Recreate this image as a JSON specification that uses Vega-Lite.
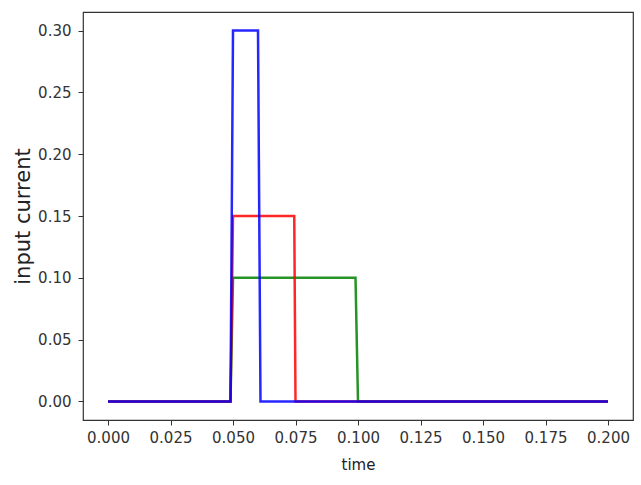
{
  "$schema": "https://vega.github.io/schema/vega-lite/v6.json",
  "autosize": {"type": "none"},
  "width": 550,
  "height": 408,
  "padding": {"left": 83, "top": 12, "right": 8, "bottom": 65},
  "background": "white",
  "config": {
    "view": {"stroke": "#333333", "strokeWidth": 1.2},
    "axis": {
      "grid": false,
      "domain": false,
      "tickColor": "#333333",
      "tickSize": 5,
      "labelFont": "DejaVu Sans",
      "labelFontSize": 15,
      "labelColor": "#333333",
      "titleFont": "DejaVu Sans",
      "titleColor": "#222222",
      "titleFontWeight": "normal"
    }
  },
  "data": {
    "values": [
      {"series": "green", "time": 0.0, "current": 0.0},
      {"series": "green", "time": 0.049, "current": 0.0},
      {"series": "green", "time": 0.05, "current": 0.1},
      {"series": "green", "time": 0.099, "current": 0.1},
      {"series": "green", "time": 0.1, "current": 0.0},
      {"series": "green", "time": 0.2, "current": 0.0},
      {"series": "red", "time": 0.0, "current": 0.0},
      {"series": "red", "time": 0.049, "current": 0.0},
      {"series": "red", "time": 0.05, "current": 0.15},
      {"series": "red", "time": 0.0745, "current": 0.15},
      {"series": "red", "time": 0.075, "current": 0.0},
      {"series": "red", "time": 0.2, "current": 0.0},
      {"series": "blue", "time": 0.0, "current": 0.0},
      {"series": "blue", "time": 0.049, "current": 0.0},
      {"series": "blue", "time": 0.05, "current": 0.3},
      {"series": "blue", "time": 0.06, "current": 0.3},
      {"series": "blue", "time": 0.061, "current": 0.0},
      {"series": "blue", "time": 0.2, "current": 0.0}
    ]
  },
  "encoding": {
    "x": {
      "field": "time", "type": "quantitative",
      "scale": {"domain": [-0.01, 0.21], "nice": false, "zero": false},
      "axis": {"values": [0, 0.025, 0.05, 0.075, 0.1, 0.125, 0.15, 0.175, 0.2], "format": ".3f", "title": "time", "titleFontSize": 15, "titlePadding": 12, "labelPadding": 5}
    },
    "y": {
      "field": "current", "type": "quantitative",
      "scale": {"domain": [-0.015, 0.315], "nice": false, "zero": false},
      "axis": {"values": [0, 0.05, 0.1, 0.15, 0.2, 0.25, 0.3], "format": ".2f", "title": "input current", "titleFontSize": 21, "titlePadding": 4, "labelPadding": 7}
    }
  },
  "layer": [
    {"transform": [{"filter": "datum.series === 'green'"}], "mark": {"type": "line", "color": "#008000", "strokeWidth": 2.5, "opacity": 0.85}},
    {"transform": [{"filter": "datum.series === 'red'"}], "mark": {"type": "line", "color": "#ff0000", "strokeWidth": 2.5, "opacity": 0.85}},
    {"transform": [{"filter": "datum.series === 'blue'"}], "mark": {"type": "line", "color": "#0000ff", "strokeWidth": 2.5, "opacity": 0.85}}
  ]
}
